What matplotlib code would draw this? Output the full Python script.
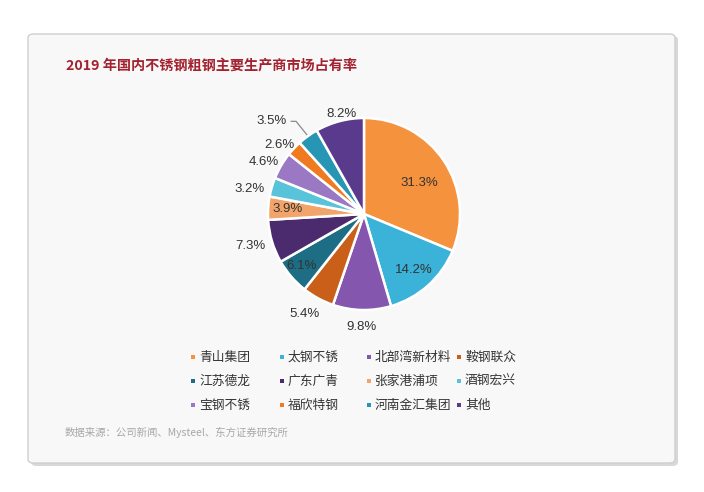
import matplotlib
matplotlib.use("Agg")
import matplotlib.pyplot as plt
from matplotlib.patches import FancyBboxPatch, Rectangle
import numpy as np

plt.rcParams['font.family'] = ['Noto Sans CJK SC', 'DejaVu Sans']

# ---- data ----
companies = ['青山集团', '太钢不锈', '北部湾新材料', '鞍钢联众',
             '江苏德龙', '广东广青', '张家港浦项', '酒钢宏兴',
             '宝钢不锈', '福欣特钢', '河南金汇集团', '其他']
shares = [31.3, 14.2, 9.8, 5.4, 6.1, 7.3, 3.9, 3.2, 4.6, 2.6, 3.5, 8.2]
colors = ['#f5923e', '#3bb3d9', '#8556ad', '#c95f19', '#1d6d84', '#4b2b6e',
          '#f2a46a', '#58c3d9', '#9b78c3', '#f07a1f', '#2696b4', '#5a3a8c']
title = '2019 年国内不锈钢粗钢主要生产商市场占有率'
source = '数据来源：公司新闻、Mysteel、东方证券研究所'

W, H = 704, 492
fig = plt.figure(figsize=(W / 100, H / 100), dpi=100)
fig.patch.set_facecolor('white')

def fx(px):
    return px / W

def fy(py):
    return 1 - py / H

# card with shadow
shadow = FancyBboxPatch((fx(31), fy(466)), fx(675 - 28), (466 - 36) / H,
                        boxstyle="round,pad=0,rounding_size=0.008",
                        transform=fig.transFigure, facecolor='#d8d8d8',
                        edgecolor='none', zorder=0)
fig.patches.append(shadow)
card = FancyBboxPatch((fx(28), fy(463)), fx(675 - 28), (463 - 34) / H,
                      boxstyle="round,pad=0,rounding_size=0.008",
                      transform=fig.transFigure, facecolor='#f8f8f8',
                      edgecolor='#cfcfcf', linewidth=1.0, zorder=1)
fig.patches.append(card)

# title
fig.text(fx(66), fy(67), title, fontsize=10.2, fontweight='bold',
         color='#a3222f', ha='left', va='center', zorder=3)

# pie
cx, cy, r = 364, 214, 96
ax = fig.add_axes([fx(cx - r), fy(cy + r), 2 * r / W, 2 * r / H])
ax.set_zorder(2)
wedges, _ = ax.pie(shares, colors=colors, startangle=90, counterclock=False,
                   radius=1.0, wedgeprops=dict(edgecolor='white', linewidth=1.8))
ax.set_xlim(-1, 1)
ax.set_ylim(-1, 1)
ax.set_aspect('equal')
ax.axis('off')

lab_r = [0.66, 0.78, 1.18, 1.21, 0.84, 1.23, 0.80, 1.22, 1.17, 1.14, 1.36, 1.07]
lab_da = [-4, 0, 0, -2, -1, -1, 0, 4, 3, 4, 9, -2]
for i, w in enumerate(wedges):
    mid = (w.theta1 + w.theta2) / 2
    a = np.deg2rad(mid + lab_da[i])
    x, y = lab_r[i] * np.cos(a), lab_r[i] * np.sin(a)
    txt = f'{shares[i]:.1f}%'
    ax.text(x, y, txt, ha='center', va='center', fontsize=9.5,
            color='#333333', family=['Liberation Sans'], clip_on=False)
    if i == 10:
        am = np.deg2rad(mid)
        ax.plot([x + 0.2, x + 0.25, 1.02 * np.cos(am)],
                [y + 0.0, y - 0.0, 1.02 * np.sin(am)],
                color='#8a8a8a', lw=0.9, clip_on=False, zorder=3)

# legend
col_x = [193, 282, 369, 459]
row_y = [357, 381, 405]
for i, name in enumerate(companies):
    rx = col_x[i % 4]
    ry = row_y[i // 4]
    fig.patches.append(Rectangle((fx(rx - 2), fy(ry + 2)), 4 / W, 4 / H,
                                 transform=fig.transFigure,
                                 facecolor=colors[i], edgecolor='none', zorder=3))
    fig.text(fx(rx + 6), fy(ry), name, fontsize=9.2, color='#333333',
             ha='left', va='center', zorder=3)

# source
fig.text(fx(65), fy(432), source, fontsize=7.5, color='#a8a8a8',
         ha='left', va='center', zorder=3)

fig.savefig('out.png', dpi=100, facecolor='white')
